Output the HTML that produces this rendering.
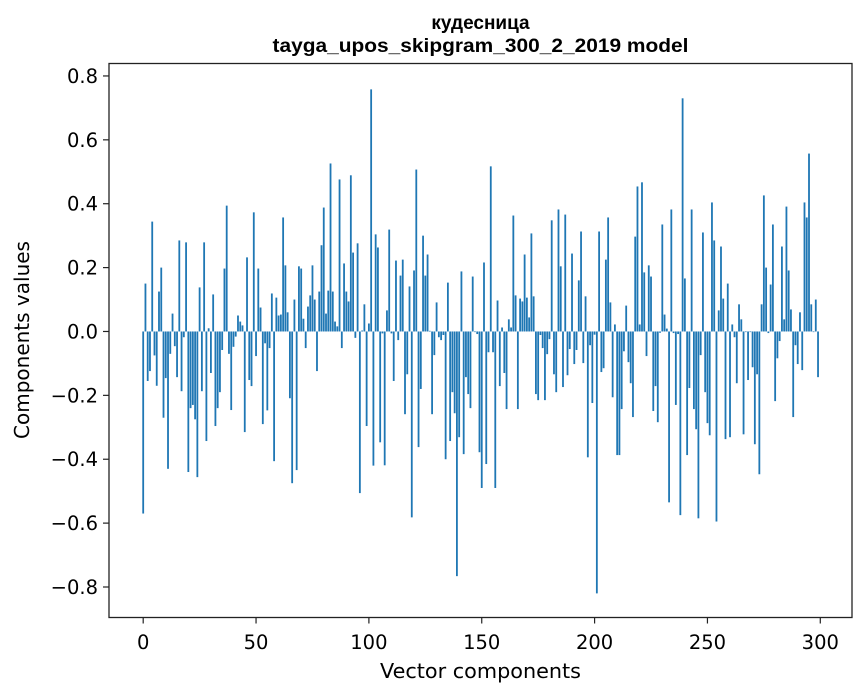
<!DOCTYPE html>
<html><head><meta charset="utf-8"><style>
html,body{margin:0;padding:0;background:#fff;}
svg{display:block;font-family:"DejaVu Sans","Liberation Sans",sans-serif;}
</style></head><body>
<svg id="chart" width="867" height="696" viewBox="0 0 867 696">
<rect width="867" height="696" fill="#fff"/>
<text x="480.5" y="29" text-anchor="middle" font-family="Liberation Sans, sans-serif" font-weight="bold" font-size="19">кудесница</text>
<text x="480.5" y="52" text-anchor="middle" font-family="Liberation Sans, sans-serif" font-weight="bold" font-size="19" textLength="416" lengthAdjust="spacingAndGlyphs">tayga_upos_skipgram_300_2_2019 model</text>
<g id="bars"></g>
<g id="axes"></g>
<rect x="109" y="63.5" width="743" height="554" fill="none" stroke="#222" stroke-width="1.3"/>
<text x="480.5" y="678" text-anchor="middle" font-size="20" textLength="201" lengthAdjust="spacingAndGlyphs">Vector components</text>
<text transform="translate(29,340) rotate(-90)" text-anchor="middle" font-size="20">Components values</text>
</svg>
<script>
const values = [
-0.57,0.15,-0.155,-0.124,0.344,-0.075,-0.17,0.125,0.20,-0.27,
-0.146,-0.43,-0.07,0.056,-0.046,-0.143,0.285,-0.187,-0.018,0.279,
-0.44,-0.24,-0.23,-0.275,-0.456,0.138,-0.187,0.279,-0.343,0.01,
-0.13,0.116,-0.296,-0.24,-0.19,-0.058,0.197,0.394,-0.07,-0.246,
-0.048,-0.016,0.05,0.031,0.019,-0.315,0.232,-0.152,-0.171,0.373,
-0.077,0.197,0.075,-0.29,-0.037,-0.247,-0.052,0.119,-0.406,0.106,
0.05,0.053,0.357,0.207,0.06,-0.209,-0.475,0.1,-0.434,0.204,
0.197,0.04,-0.052,0.078,0.113,0.207,0.1,-0.124,0.125,0.27,
0.388,0.056,0.128,0.526,0.125,0.031,0.016,0.476,-0.052,0.213,
0.125,0.094,0.489,0.247,-0.02,0.276,-0.506,0.003,0.085,-0.296,
0.025,0.758,-0.42,0.304,0.263,-0.347,-0.006,-0.419,0.066,0.319,
-0.006,-0.155,0.222,-0.027,0.175,0.225,-0.259,-0.134,0.141,-0.582,
0.191,0.507,-0.362,-0.18,0.3,0.175,0.241,0.002,-0.259,-0.074,
0.091,-0.018,-0.027,-0.011,-0.4,0.153,-0.343,-0.19,-0.256,-0.766,
-0.331,0.188,-0.384,-0.143,-0.196,-0.24,0.172,-0.002,-0.008,-0.378,
-0.49,0.216,-0.415,-0.065,0.517,-0.065,-0.49,0.097,-0.171,0.0125,
-0.13,-0.243,0.038,0.0125,0.363,0.113,-0.243,0.103,0.094,0.241,
0.106,0.044,0.307,0.11,-0.196,-0.215,-0.011,-0.052,-0.215,-0.071,
-0.024,0.348,-0.134,-0.19,0.382,0.204,-0.174,0.366,-0.137,-0.055,
0.244,-0.102,-0.058,0.16,0.313,-0.099,0.11,-0.394,-0.043,-0.224,
-0.01,-0.82,0.313,-0.127,-0.115,0.225,0.357,0.091,-0.206,0.022,
-0.387,-0.387,-0.243,-0.062,0.081,-0.096,-0.162,-0.268,0.297,0.454,
0.022,0.467,0.185,-0.077,0.207,0.172,-0.249,-0.171,-0.284,-0.004,
0.335,0.053,0.009,-0.535,0.382,-0.005,-0.23,-0.008,-0.575,0.73,
0.166,-0.387,-0.177,0.382,-0.243,-0.306,-0.585,-0.074,0.31,-0.19,
-0.287,-0.325,0.404,0.285,-0.595,0.066,0.266,0.103,-0.337,0.15,
-0.331,0.022,-0.018,-0.162,0.085,0.038,-0.322,-0.002,-0.152,-0.002,
-0.112,-0.353,-0.134,-0.447,0.085,0.426,0.2,-0.005,0.147,0.335,
-0.218,-0.084,-0.03,0.266,0.038,0.391,0.191,0.069,-0.268,-0.043,
-0.102,0.06,-0.121,0.404,0.357,0.557,0.085,-0.002,0.1,-0.143
];
const xTicks = [0,50,100,150,200,250,300];
const yTicks = [-0.8,-0.6,-0.4,-0.2,0.0,0.2,0.4,0.6,0.8];
const yTickLabels = ["\u22120.8","\u22120.6","\u22120.4","\u22120.2","0.0","0.2","0.4","0.6","0.8"];

const L=109,R=852,T=63.5,B=617.5;
const xMin=-15.15,xMax=314.05,yMin=-0.8955,yMax=0.8390;
function xs(v){return L+(v-xMin)/(xMax-xMin)*(R-L);}
function ys(v){return T+(yMax-v)/(yMax-yMin)*(B-T);}
const NS="http://www.w3.org/2000/svg";
const bars=document.getElementById('bars');
values.forEach(function(v,i){
  const r=document.createElementNS(NS,'rect');
  const x0=xs(i-0.4),x1=xs(i+0.4);
  const y0=ys(Math.max(v,0)),y1=ys(Math.min(v,0));
  r.setAttribute('x',x0);r.setAttribute('width',x1-x0);
  r.setAttribute('y',y0);r.setAttribute('height',Math.max(y1-y0,0.01));
  r.setAttribute('fill','#1f77b4');
  
  
  bars.appendChild(r);
});
const axes=document.getElementById('axes');
xTicks.forEach(function(t){
  const x=xs(t);
  const l=document.createElementNS(NS,'line');
  l.setAttribute('x1',x);l.setAttribute('x2',x);l.setAttribute('y1',B);l.setAttribute('y2',B+6);
  l.setAttribute('stroke','#222');l.setAttribute('stroke-width','1.2');
  
  
  axes.appendChild(l);
  const tx=document.createElementNS(NS,'text');
  tx.setAttribute('x',x);tx.setAttribute('y',649);tx.setAttribute('text-anchor','middle');tx.setAttribute('font-size','19.5');
  tx.textContent=String(t);
  
  
  axes.appendChild(tx);
});
yTicks.forEach(function(t,i){
  const y=ys(t);
  const l=document.createElementNS(NS,'line');
  l.setAttribute('x1',L-6);l.setAttribute('x2',L);l.setAttribute('y1',y);l.setAttribute('y2',y);
  l.setAttribute('stroke','#222');l.setAttribute('stroke-width','1.2');
  
  
  axes.appendChild(l);
  const tx=document.createElementNS(NS,'text');
  tx.setAttribute('x',L-11);tx.setAttribute('y',y+7);tx.setAttribute('text-anchor','end');tx.setAttribute('font-size','19.5');
  tx.textContent=yTickLabels[i];
  
  
  axes.appendChild(tx);
});
</script>
</body></html>
